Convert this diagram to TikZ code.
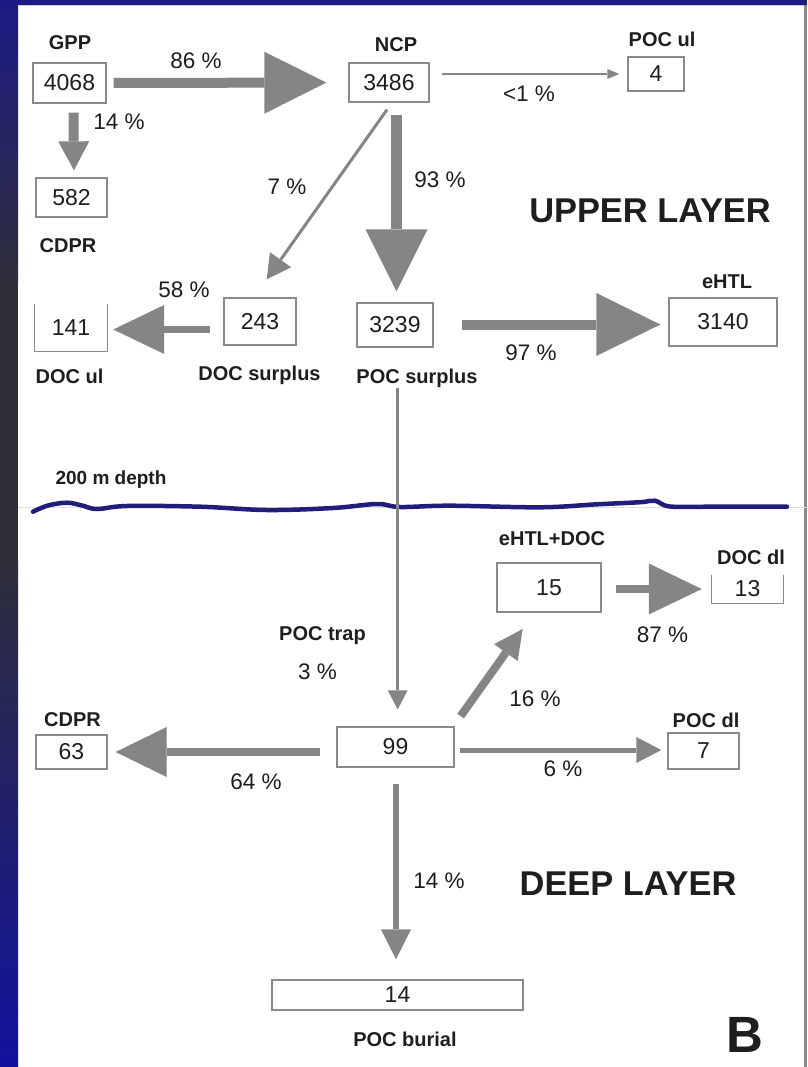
\documentclass[tikz,border=0pt]{standalone}
\usepackage{fontspec}
\setmainfont{Liberation Sans}
\usetikzlibrary{arrows.meta}
\definecolor{arrgray}{HTML}{858585}
\definecolor{boxgray}{HTML}{8A8A8A}
\definecolor{txt}{HTML}{1E1E1E}
\definecolor{wave}{HTML}{221C7A}
\definecolor{stripA}{HTML}{1C1B86}
\definecolor{stripB}{HTML}{2E2E3A}
\definecolor{stripC}{HTML}{12129E}
\begin{document}
\begin{tikzpicture}[x=1pt,y=-1pt,
  box/.style={draw=boxgray, line width=1.3pt, fill=white, inner sep=0pt, text=txt, font=\fontsize{23}{23}\selectfont},
  ubox/.style={inner sep=0pt, text=txt, font=\fontsize{23}{23}\selectfont},
  uline/.style={draw=boxgray, line width=1.3pt},
  lbl/.style={anchor=base, inner sep=0pt, text=txt, font=\bfseries\fontsize{20}{20}\selectfont},
  pct/.style={anchor=base, inner sep=0pt, text=txt, font=\fontsize{22.5}{22.5}\selectfont},
  layer/.style={anchor=base, inner sep=0pt, text=txt, font=\bfseries\fontsize{34.4}{34.4}\selectfont},
  flow/.style n args={3}{draw=arrgray, line width=#1, -{Triangle[length=#2, width=#3, line width=0pt]}},
]
\useasboundingbox (0,0) rectangle (807,1067);
% background
\fill[white] (0,0) rectangle (807,1067);
\shade[top color=stripA, bottom color=stripB] (0,0) rectangle (18,281);
\fill[stripB] (0,280) rectangle (18,561);
\shade[top color=stripB, bottom color=stripC] (0,560) rectangle (18,1067);
\fill[stripA] (0,0) rectangle (807,5);
\draw[gray!45, line width=1pt] (18.5,5.5) -- (806,5.5);
\draw[boxgray, line width=2.5pt] (805.5,5) -- (805.5,1067);
\draw[gray!25, line width=1pt] (18,507) -- (807,507);
% depth line
\draw[wave, line width=4.5pt, line cap=round] plot[smooth, tension=0.6] coordinates {(33,511.7) (48,505.5) (67,502.7) (82,505.5) (97,509) (127,506) (200,506.7) (267,510) (333,508) (377,504) (400,507) (450,505.7) (540,507.3) (597,504.3) (640,502.2) (655,500.7) (670,506.5) (713,506.7) (787,506.7)};
\node[lbl, font=\bfseries\fontsize{19}{19}\selectfont] (depth) at (111,484) {200 m depth};

% boxes
\node[box, minimum width=73pt, minimum height=40pt] (n4068) at (69.5,83) {4068};
\node[box, minimum width=80pt, minimum height=39pt] (n3486) at (389,82.5) {3486};
\node[box, minimum width=56pt, minimum height=34pt] (n4) at (656,74) {4};
\node[box, minimum width=71pt, minimum height=39pt] (n582) at (71.5,197.5) {582};
\node[box, minimum width=72pt, minimum height=47pt] (n243) at (260,321.5) {243};
\node[ubox, minimum width=72pt, minimum height=47pt] (n141) at (71,327.5) {141};
\draw[uline] (n141.north west) -- (n141.south west) -- (n141.south east) -- (n141.north east);
\node[box, minimum width=76pt, minimum height=44pt] (n3239) at (395,325) {3239};
\node[box, minimum width=108pt, minimum height=48pt] (n3140) at (723,322) {3140};
\node[box, minimum width=104pt, minimum height=49pt] (n15) at (549,587.5) {15};
\node[ubox, minimum width=71pt, minimum height=28pt] (n13) at (747.5,589) {13};
\draw[uline] (n13.north west) -- (n13.south west) -- (n13.south east) -- (n13.north east);
\node[box, minimum width=71pt, minimum height=36pt] (n7) at (703.5,751) {7};
\node[box, minimum width=117pt, minimum height=40pt] (n99) at (395.5,747) {99};
\node[box, minimum width=71pt, minimum height=34pt] (n63) at (71.5,752) {63};
\node[box, minimum width=251pt, minimum height=30pt] (n14) at (397.5,995) {14};

% labels
\node[lbl] (gpp) at (70,49.5) {GPP};
\node[lbl] (ncp) at (396,51.5) {NCP};
\node[lbl] (pocul) at (662,46.7) {POC ul};
\node[lbl] (cdpr1) at (68,252.7) {CDPR};
\node[lbl] (docul) at (69.5,383) {DOC ul};
\node[lbl] (docs) at (259.5,380) {DOC surplus};
\node[lbl] (pocs) at (417,383) {POC surplus};
\node[lbl] (ehtl) at (727,288.3) {eHTL};
\node[lbl] (ehtldoc) at (552,545) {eHTL+DOC};
\node[lbl] (docdl) at (751,564.3) {DOC dl};
\node[lbl] (pocdl) at (706,727.7) {POC dl};
\node[lbl] (poctrap) at (322.5,640.7) {POC trap};
\node[lbl] (cdpr2) at (72.5,726) {CDPR};
\node[lbl] (pocbur) at (405,1046) {POC burial};
\node[layer] (upper) at (650,222.7) {UPPER LAYER};
\node[layer] (deep) at (628,895) {DEEP LAYER};
\node[anchor=base, inner sep=0pt, text=txt, font=\bfseries\fontsize{51}{51}\selectfont] (bl) at (745,1052.7) {B};

% percentages
\node[pct] (p86) at (196,68.3) {86 \%};
\node[pct] (p1) at (529,101.5) {<1 \%};
\node[pct] (p14a) at (119,129.3) {14 \%};
\node[pct] (p7) at (287,195) {7 \%};
\node[pct] (p93) at (440,187.3) {93 \%};
\node[pct] (p58) at (184,297.3) {58 \%};
\node[pct] (p97) at (531,360) {97 \%};
\node[pct] (p87) at (662.5,642.7) {87 \%};
\node[pct] (p16) at (535,706) {16 \%};
\node[pct] (p6) at (563,776.7) {6 \%};
\node[pct] (p3) at (317.5,679.3) {3 \%};
\node[pct] (p64) at (256,789.3) {64 \%};
\node[pct] (p14b) at (439,888.3) {14 \%};

% flows
\draw[flow={10pt}{62pt}{62pt}, shorten <=7pt, shorten >=22pt] (n4068) -- (n3486);
\draw[flow={2pt}{12pt}{10pt}, shorten <=12pt, shorten >=8pt] (n3486.east |- n4.west) -- (n4.west);
\draw[flow={10pt}{29pt}{31pt}] ([shift={(4,9)}]n4068.south) -- ([shift={(2.5,-7)}]n582.north);
\draw[flow={3pt}{24pt}{26pt}] ([shift={(-2,7)}]n3486.south) -- ([shift={(6.7,-18)}]n243.north);
\draw[flow={11pt}{62pt}{62pt}] ([shift={(7.5,12.5)}]n3486.south) -- ([shift={(1.5,-11)}]n3239.north);
\draw[flow={7pt}{51pt}{49pt}] ([shift={(-13,8)}]n243.west) -- ([shift={(6,2)}]n141.east);
\draw[flow={10pt}{64pt}{63pt}] ([shift={(28,-0.5)}]n3239.east) -- ([shift={(-8,2.5)}]n3140.west);
\draw[flow={3pt}{19pt}{20pt}] ([shift={(2.7,40)}]n3239.south) -- ([shift={(2.2,-17)}]n99.north);
\draw[flow={8pt}{29pt}{29pt}] ([shift={(6,-10.3)}]n99.north east) -- ([shift={(-26.3,16.3)}]n15.south);
\draw[flow={8pt}{53pt}{51pt}] ([shift={(14,1.5)}]n15.east) -- ([shift={(-10,0)}]n13.west);
\draw[flow={5pt}{25pt}{26pt}] ([shift={(5,3)}]n99.east) -- ([shift={(-6,-1)}]n7.west);
\draw[flow={8pt}{51pt}{50pt}] ([shift={(-16,5)}]n99.west) -- ([shift={(8,0)}]n63.east);
\draw[flow={6pt}{30pt}{30pt}] ([shift={(0.5,16)}]n99.south) -- ([shift={(-1.5,-20)}]n14.north);
\end{tikzpicture}
\end{document}
